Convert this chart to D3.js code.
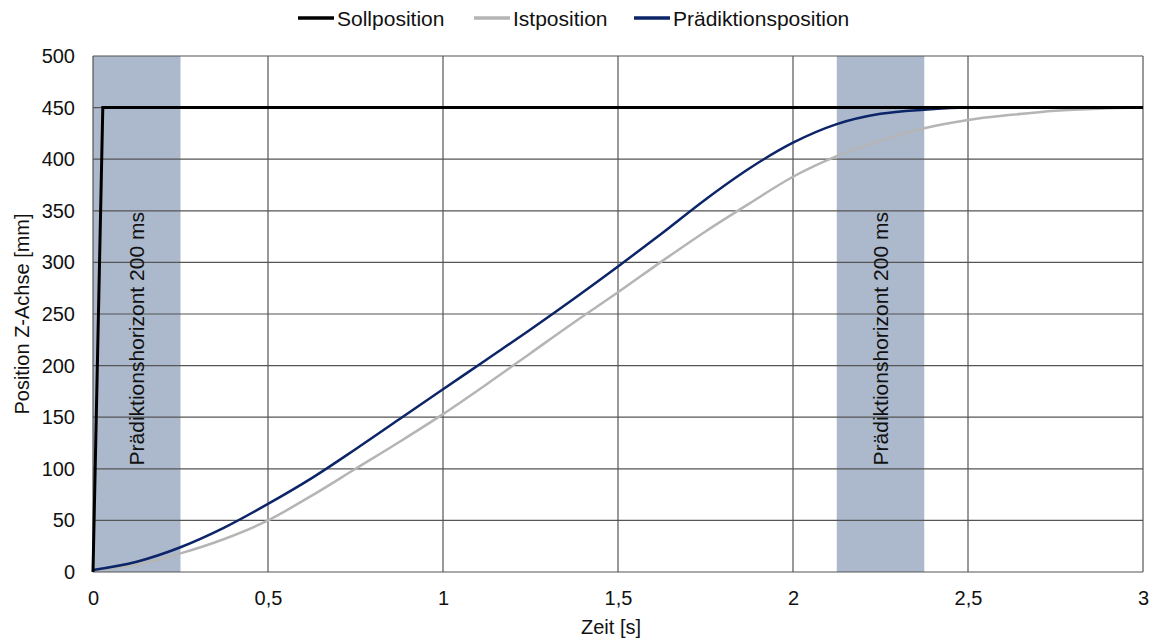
<!DOCTYPE html>
<html><head><meta charset="utf-8">
<script src="https://cdn.jsdelivr.net/npm/d3@7"></script>
<style>
body{margin:0;background:#fff;}
text{font-family:"Liberation Sans",Arial,sans-serif;fill:#111;}
</style></head>
<body><svg id="c" width="1156" height="643"></svg>
<script>
const xTicks=[0,0.5,1,1.5,2,2.5,3];
const xTickLabels=["0","0,5","1","1,5","2","2,5","3"];
const yTicks=[0,50,100,150,200,250,300,350,400,450,500];
const bands=[[0,0.25],[2.125,2.375]];
const bandLabel="Prädiktionshorizont 200 ms";
const sollX=[0,0.028,3];
const sollY=[0,450,450];
const istX=[0,0.125,0.25,0.375,0.5,0.625,0.75,0.875,1.0,1.125,1.25,1.375,1.5,1.625,1.75,1.875,2.0,2.125,2.25,2.375,2.5,2.625,2.75,2.875,3];
const istY=[2,7,18,32,50,74,100,126,153,182,212,242,271,301,330,357,383,403,418,430,438,443,447,449,450];
const predX=[0,0.125,0.25,0.375,0.5,0.625,0.75,0.875,1.0,1.125,1.25,1.375,1.5,1.625,1.75,1.875,2.0,2.125,2.25,2.375,2.5,2.75,3];
const predY=[2,10,24,43,66,91,119,148,177,206,235,265,296,328,361,391,416,434,444,448,450,450,450];
const seriesNames=["Sollposition","Istposition","Prädiktionsposition"];
const seriesColors=["#000000","#b5b5b5","#0c2468"];
const seriesWidths=[3,2.5,2.5];

const svg=d3.select("#c");
const x=d3.scaleLinear().domain([0,3]).range([93,1143]);
const y=d3.scaleLinear().domain([0,500]).range([572,56]);

// bands
svg.selectAll("rect.band").data(bands).enter().append("rect")
 .attr("x",d=>x(d[0])).attr("width",d=>x(d[1])-x(d[0]))
 .attr("y",y(500)).attr("height",y(0)-y(500)).attr("fill","#acb9cc");

// gridlines
svg.append("g").selectAll("line").data(yTicks).enter().append("line")
 .attr("x1",x(0)).attr("x2",x(3)).attr("y1",d=>y(d)).attr("y2",d=>y(d))
 .attr("stroke","#555").attr("stroke-width",1.2);
svg.append("g").selectAll("line").data(xTicks).enter().append("line")
 .attr("y1",y(0)).attr("y2",y(500)).attr("x1",d=>x(d)).attr("x2",d=>x(d))
 .attr("stroke","#555").attr("stroke-width",1.2);

// band labels
svg.selectAll("text.bl").data(bands).enter().append("text")
 .attr("transform",d=>`translate(${(x(d[0])+x(d[1]))/2},${y(226)}) rotate(-90)`)
 .attr("text-anchor","middle").attr("dy","0.36em").attr("font-size",21).text(bandLabel);

// axes tick labels
const yAxis=d3.axisLeft(y).tickValues(yTicks).tickSize(0).tickPadding(18);
const gy=svg.append("g").attr("transform",`translate(${x(0)},0)`).call(yAxis);
gy.select(".domain").remove();
gy.selectAll("text").attr("font-size",20).attr("fill","#111").style("font-family","Liberation Sans, Arial, sans-serif");
const xAxis=d3.axisBottom(x).tickValues(xTicks).tickFormat((d,i)=>xTickLabels[i]).tickSize(0).tickPadding(19);
const gx=svg.append("g").attr("transform",`translate(0,${y(0)})`).call(xAxis);
gx.select(".domain").remove();
gx.selectAll("text").attr("font-size",20).attr("fill","#111").style("font-family","Liberation Sans, Arial, sans-serif");

// axis titles
svg.append("text").attr("x",(x(0)+x(3))/2-7).attr("y",634).attr("text-anchor","middle").attr("font-size",20).text("Zeit [s]");
svg.append("text").attr("transform",`translate(29,${(y(0)+y(500))/2}) rotate(-90)`).attr("text-anchor","middle").attr("font-size",20).text("Position Z-Achse [mm]");

// lines
const line=d3.line().x(d=>x(d[0])).y(d=>y(d[1]));
const smooth=d3.line().x(d=>x(d[0])).y(d=>y(d[1])).curve(d3.curveMonotoneX);
const sollData=sollX.map((v,i)=>[v,sollY[i]]);
const istData=istX.map((v,i)=>[v,istY[i]]);
const predData=predX.map((v,i)=>[v,predY[i]]);
svg.append("path").attr("d",smooth(istData)).attr("fill","none").attr("stroke",seriesColors[1]).attr("stroke-width",seriesWidths[1]);
svg.append("path").attr("d",smooth(predData)).attr("fill","none").attr("stroke",seriesColors[2]).attr("stroke-width",seriesWidths[2]);
svg.append("path").attr("d",line(sollData)).attr("fill","none").attr("stroke",seriesColors[0]).attr("stroke-width",seriesWidths[0]);

// legend
const legX=[298,474,634];
const lg=svg.append("g");
seriesNames.forEach((n,i)=>{
  lg.append("line").attr("x1",legX[i]).attr("x2",legX[i]+36).attr("y1",18).attr("y2",18)
    .attr("stroke",seriesColors[i]).attr("stroke-width",3.5);
  lg.append("text").attr("x",legX[i]+39).attr("y",18).attr("dy","0.36em").attr("font-size",21).text(n);
});
</script></body></html>
